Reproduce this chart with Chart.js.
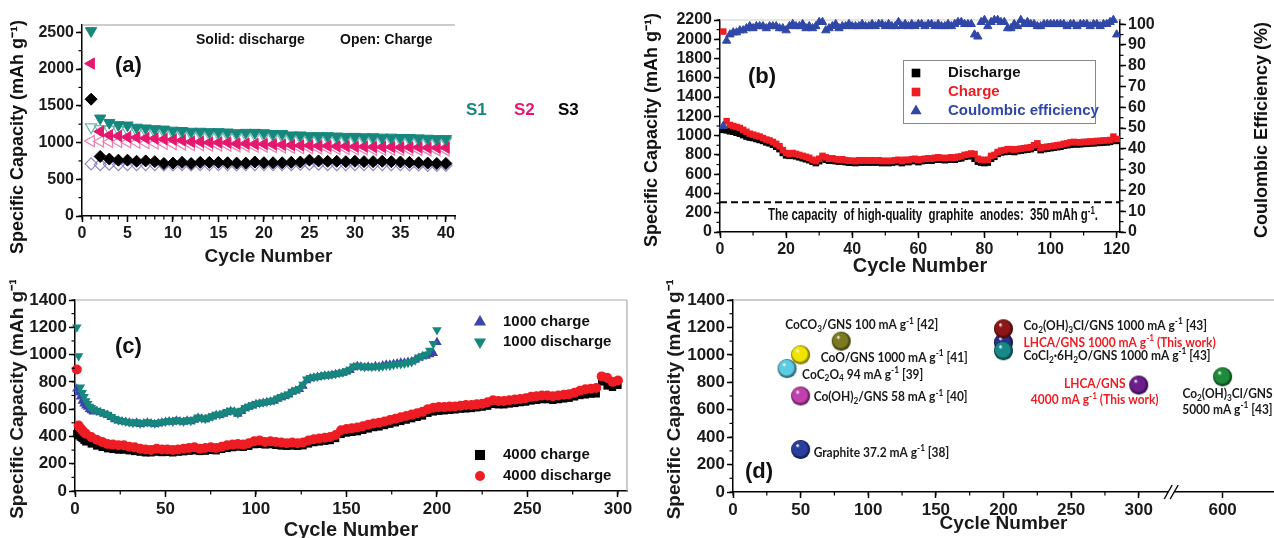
<!DOCTYPE html>
<html><head><meta charset="utf-8">
<script src="https://cdn.jsdelivr.net/npm/chart.js@4.4.1/dist/chart.umd.min.js"></script>
<style>
html,body{margin:0;padding:0;background:#fff;width:1274px;height:538px;overflow:hidden}
.p{position:absolute}
</style></head><body>
<div class="p" style="left:0;top:0"><canvas id="ca" width="640" height="278"></canvas></div>
<div class="p" style="left:640px;top:0"><canvas id="cb" width="634" height="278"></canvas></div>
<div class="p" style="left:0;top:280px"><canvas id="cc" width="640" height="258"></canvas></div>
<div class="p" style="left:660px;top:280px"><canvas id="cd" width="614" height="258"></canvas></div>
<script>
// ---------------- DATA ----------------
// Panel (a): cycles 1..40
const cyclesA = [1,2,3,4,5,6,7,8,9,10,11,12,13,14,15,16,17,18,19,20,21,22,23,24,25,26,27,28,29,30,31,32,33,34,35,36,37,38,39,40];
const s1Discharge = [2520,1330,1270,1240,1235,1205,1195,1185,1180,1165,1160,1150,1150,1145,1145,1140,1130,1135,1135,1130,1120,1120,1100,1100,1090,1090,1090,1085,1080,1080,1075,1075,1070,1070,1065,1065,1060,1055,1050,1050];
const s1Charge = [1210,1185,1180,1175,1170,1160,1150,1145,1140,1130,1125,1115,1115,1110,1110,1105,1100,1100,1100,1095,1090,1085,1070,1070,1060,1060,1060,1055,1050,1050,1045,1045,1040,1040,1035,1035,1030,1025,1020,1020];
const s2Discharge = [2075,1150,1100,1090,1075,1070,1060,1055,1045,1040,1030,1010,1010,1000,1000,1000,985,985,980,980,975,970,965,960,960,955,955,950,950,945,945,940,940,940,935,935,935,930,930,930];
const s2Charge = [1020,1015,1010,1010,1005,1000,995,990,985,980,975,965,965,960,960,960,950,950,945,945,940,935,930,925,925,920,920,915,915,910,910,905,905,905,900,900,900,895,895,895];
const s3Discharge = [1590,810,775,760,760,745,750,740,715,720,730,715,730,730,730,725,720,720,735,725,725,725,730,735,760,750,745,745,740,745,740,740,745,740,735,730,725,720,715,715];
const s3Charge = [710,700,705,700,700,700,700,700,695,695,700,695,700,700,700,700,695,700,700,700,700,700,700,705,705,705,700,700,700,700,700,700,700,700,700,695,695,690,690,690];
const ticksAx = [0,5,10,15,20,25,30,35,40];
const ticksAy = [0,500,1000,1500,2000,2500];

// Panel (b): cycles 1..120
const cyclesB = Array.from({length:120},(_, i) => i + 1);
const bCharge = [2080,1150,1110,1100,1090,1080,1060,1040,1020,1010,
 1000,990,975,960,950,935,915,890,850,820,
 810,820,810,800,790,780,770,750,735,760,
 790,775,760,765,755,750,755,745,740,740,
 735,745,740,745,740,745,740,745,735,740,
 735,740,745,750,735,750,745,755,760,745,
 755,760,765,760,770,775,770,765,770,775,
 770,780,785,800,805,815,810,760,750,745,
 750,790,800,830,845,850,860,860,855,860,
 865,870,875,880,900,920,870,880,885,890,
 895,900,905,915,920,930,935,930,930,935,
 935,940,940,945,945,950,950,955,990,965];
const bDischarge = [1060,1055,1045,1040,1030,1020,1005,990,980,975,
 965,955,945,930,920,905,885,860,820,795,
 790,795,785,775,765,755,745,730,715,735,
 765,750,740,740,735,730,735,725,720,720,
 715,725,720,725,720,725,720,725,715,720,
 715,720,725,730,715,730,725,735,740,725,
 735,740,745,740,750,755,750,745,750,755,
 750,760,765,780,785,795,760,730,720,715,
 720,760,780,810,825,830,835,835,830,840,
 845,850,855,860,875,890,850,860,865,870,
 875,880,885,895,900,905,910,910,910,915,
 915,920,920,925,925,930,930,935,950,945];
const bEfficiency = [51,92,95,96,96,97,97,98,99,98,
 99,99,99,98,99,99,99,98,98,97,
 99,100,99,99,100,98,99,98,99,101,
 101,97,98,99,100,98,99,99,100,99,
 99,99,100,99,99,100,99,100,100,99,
 100,99,99,101,99,100,99,100,99,100,
 100,99,100,100,99,100,99,99,100,99,
 100,101,101,100,100,100,95,94,101,102,
 99,101,102,102,101,101,98,98,100,99,
 102,100,101,100,100,99,99,100,100,100,
 100,100,100,100,99,100,100,99,100,100,
 100,99,100,100,99,100,100,101,102,95];
const graphiteLine = 310;
const ticksBx = [0,20,40,60,80,100,120];
const ticksBy = [0,200,400,600,800,1000,1200,1400,1600,1800,2000,2200];
const ticksBy1 = [0,10,20,30,40,50,60,70,80,90,100];

// Panel (c)
function range(a,b,s){const r=[];for(let v=a;v<=b;v+=s)r.push(v);return r;}
const cyc1000 = [1,2,3,4,5,6,7,8,9,10].concat(range(12,200,2));
const d1000 = [1200,990,760,720,690,660,640,620,610,600,
 590,580,570,560,545,530,520,515,510,505,
 500,505,495,500,505,500,495,500,505,510,
 515,510,520,515,510,520,515,525,540,535,
 530,540,550,560,560,570,580,590,585,570,
 590,610,620,630,640,645,650,655,660,665,
 680,690,700,710,730,740,750,780,820,830,
 835,840,845,850,850,855,860,865,870,880,
 890,915,920,915,910,915,910,915,910,915,
 920,920,925,930,930,935,940,945,960,980,
 990,1000,1030,1080,1180];
const c1000 = [750,720,690,660,640,625,615,600,590,580,
 585,575,565,555,540,525,515,510,505,500,
 495,500,490,495,500,495,490,495,500,505,
 510,505,515,510,505,515,510,520,535,530,
 525,535,545,555,555,565,575,585,580,565,
 585,605,615,625,635,640,645,650,655,660,
 675,685,695,705,725,735,745,770,810,825,
 830,835,840,845,845,850,855,860,865,875,
 885,905,915,910,905,910,905,915,910,920,
 925,925,930,935,940,940,945,950,960,975,
 985,990,1000,1010,1090];
const cyc4000 = [1,2,3,4,5].concat(range(6,300,3));
const d4000 = [890,480,460,445,430,
 420,395,375,360,345,340,335,335,325,320,
 310,305,300,310,305,305,300,305,310,315,
 320,310,315,320,315,325,335,340,345,340,
 350,365,370,360,365,360,355,350,355,350,
 355,370,380,385,390,395,410,445,455,460,
 465,475,485,495,500,510,520,530,540,550,
 560,570,580,600,610,615,615,620,620,625,
 630,630,635,640,650,665,660,660,665,670,
 675,680,690,695,700,700,695,700,705,710,
 720,735,745,750,755,840,830,800,810];
const ch4000 = [420,405,395,385,372,
 360,345,330,320,310,305,300,300,295,290,
 285,280,280,285,282,283,280,285,288,292,
 295,290,292,298,295,305,312,318,322,320,
 328,340,342,338,340,335,330,328,330,328,
 332,345,355,360,365,370,385,415,425,430,
 435,445,455,465,470,480,490,500,510,520,
 530,540,550,570,580,585,588,592,595,600,
 602,605,610,615,622,635,632,632,638,642,
 648,652,660,665,670,670,665,670,675,680,
 690,700,705,710,712,800,770,760,775];
const ticksCx = [0,50,100,150,200,250,300];
const ticksCy = [0,200,400,600,800,1000,1200,1400];

// Panel (d)
const dNames = [
 'Graphite 37.2 mA g^{-1} [38]',
 'Co(OH)_{2}/GNS 58 mA g^{-1} [40]',
 'CoC_{2}O_{4} 94 mA g^{-1} [39]',
 'CoO/GNS 1000 mA g^{-1} [41]',
 'CoCO_{3}/GNS 100 mA g^{-1} [42]',
 'LHCA/GNS 1000 mA g^{-1} (This work)',
 'Co_{2}(OH)_{3}Cl/GNS 1000 mA g^{-1} [43]',
 'CoCl_{2}·6H_{2}O/GNS 1000 mA g^{-1} [43]',
 'LHCA/GNS|4000 mA g^{-1} (This work)',
 'Co_{2}(OH)_{3}Cl/GNS|5000 mA g^{-1} [43]'];
const dCycles = [50,50,40,50,80,200,200,200,300,600];
const dCapacity = [310,700,900,1000,1100,1090,1190,1030,780,840];
const ticksDx = [0,50,100,150,200,250,300,600];
const ticksDy = [0,200,400,600,800,1000,1200,1400];

// ---------------- STYLE / HELPERS ----------------
const FAM = "'Liberation Sans', Arial, sans-serif";
const LFAM = "Lato, 'Open Sans', sans-serif";
const TEAL = '#16877c', PINK = '#e5186e', LAV = '#8d86c9', RED = '#ee1d23', BLUE = '#3047a8';
Chart.defaults.font.family = FAM;
Chart.defaults.animation = false;

function richParts(str){
  const out=[]; const re=/([_^])\{([^}]*)\}/g; let last=0, m;
  while((m=re.exec(str))){ if(m.index>last) out.push({t:str.slice(last,m.index),m:0}); out.push({t:m[2],m:m[1]==='_'?1:2}); last=re.lastIndex; }
  if(last<str.length) out.push({t:str.slice(last),m:0});
  return out;
}
function drawRich(ctx, str, x, y, o){
  const parts = richParts(str), sz = o.size, ssz = Math.round(sz*0.68);
  const fam = o.family || FAM, wt = o.weight || 'bold';
  const f = s => `${wt} ${s}px ${fam}`;
  let w = 0;
  for (const p of parts){ ctx.font = f(p.m?ssz:sz); p.w = ctx.measureText(p.t).width; w += p.w; }
  const sx = o.fitW ? o.fitW / w : (o.sx || 1);
  ctx.save(); ctx.translate(x, y); if (o.rot) ctx.rotate(o.rot); ctx.scale(sx, 1);
  let cx = o.align === 'center' ? -w/2 : o.align === 'right' ? -w : 0;
  ctx.fillStyle = o.color || '#111'; ctx.textBaseline = 'middle'; ctx.textAlign = 'left';
  for (const p of parts){ ctx.font = f(p.m?ssz:sz); const dy = p.m===1 ? sz*0.3 : p.m===2 ? -sz*0.33 : 0; ctx.fillText(p.t, cx, dy); cx += p.w; }
  ctx.restore();
}
function marker(ctx, style, x, y, r, color){
  ctx.save(); ctx.fillStyle = color; ctx.beginPath();
  if (style === 'rect'){ const s = r*0.72; ctx.rect(x-s, y-s, 2*s, 2*s); }
  else if (style === 'circle'){ ctx.arc(x, y, r, 0, Math.PI*2); }
  else if (style === 'up'){ ctx.moveTo(x, y-r); ctx.lineTo(x+r*0.87, y+r*0.5); ctx.lineTo(x-r*0.87, y+r*0.5); ctx.closePath(); }
  else if (style === 'down'){ ctx.moveTo(x, y+r); ctx.lineTo(x+r*0.87, y-r*0.5); ctx.lineTo(x-r*0.87, y-r*0.5); ctx.closePath(); }
  ctx.fill(); ctx.restore();
}
const minorTicks = {
  id: 'minorTicks',
  afterDraw(chart, args, opts){
    const ctx = chart.ctx;
    (opts.list || []).forEach(m => {
      const s = chart.scales[m.id]; const len = m.len || 3.5;
      ctx.save(); ctx.strokeStyle = '#000'; ctx.lineWidth = 1.2;
      const to = m.to !== undefined ? m.to : s.max;
      for (let v = (m.from !== undefined ? m.from : s.min); v <= to + 1e-9; v += m.step){
        const p = s.getPixelForValue(v); ctx.beginPath();
        if (s.isHorizontal()){ ctx.moveTo(p, s.top); ctx.lineTo(p, s.top + len); }
        else if (s.position === 'left'){ ctx.moveTo(s.right, p); ctx.lineTo(s.right - len, p); }
        else { ctx.moveTo(s.left, p); ctx.lineTo(s.left + len, p); }
        ctx.stroke();
      }
      ctx.restore();
    });
  }
};
const frame = {
  id: 'frame',
  beforeDatasetsDraw(chart, args, opts){
    const a = chart.chartArea, ctx = chart.ctx;
    ctx.save(); ctx.lineWidth = 1.2;
    if (opts.top){ ctx.strokeStyle = opts.top; ctx.beginPath(); ctx.moveTo(a.left, a.top); ctx.lineTo(a.right, a.top); ctx.stroke(); }
    if (opts.right){ ctx.strokeStyle = opts.right; ctx.beginPath(); ctx.moveTo(a.right, a.top); ctx.lineTo(a.right, a.bottom); ctx.stroke(); }
    ctx.restore();
  }
};
Chart.register(minorTicks, frame);

function axis(o){
  return {
    type: 'linear', position: o.pos, min: o.min, max: o.max,
    afterBuildTicks: s => { s.ticks = o.ticks.map(v => ({value: o.map ? o.map(v) : v})); },
    afterFit: s => {
      if (o.w !== undefined) s.width = o.w;
      if (o.h !== undefined) s.height = o.h;
      s.paddingLeft = 0; s.paddingRight = 0; s.paddingTop = 0; s.paddingBottom = 0;
    },
    ticks: { font: {family: FAM, size: o.fs, weight: 'bold'}, color: '#1a1a1a', padding: o.pad !== undefined ? o.pad : 2,
             maxRotation: 0, autoSkip: false, callback: o.cb || (v => String(v)) },
    grid: { drawOnChartArea: false, drawTicks: true, tickLength: 6, tickColor: '#000', tickWidth: 1.5 },
    border: { display: true, color: '#000', width: 1.5 },
    title: { display: !o.noTitle, text: o.title || '', color: '#1a1a1a', padding: o.tpad,
             font: {family: FAM, size: o.tfs, weight: 'bold', lineHeight: o.tlh || 1.2} }
  };
}
function pts(xs, ys){ return xs.map((x, i) => ({x: x, y: ys[i]})); }
function ds(label, xs, ys, o){
  return Object.assign({ label: label, data: pts(xs, ys), showLine: false, clip: false, pointBorderWidth: 1 }, o);
}
const base = { responsive: false, devicePixelRatio: 1, animation: false, events: [] };
const YT = 'Specific Capacity (mAh g⁻¹)';

// ---------------- (a) ----------------
new Chart(document.getElementById('ca'), {
  type: 'scatter',
  data: { datasets: [
    ds('S1 discharge', cyclesA, s1Discharge, {pointStyle:'triangle', rotation:180, pointRadius:6.5, backgroundColor:TEAL, borderColor:TEAL}),
    ds('S2 discharge', cyclesA, s2Discharge, {pointStyle:'triangle', rotation:270, pointRadius:6.5, backgroundColor:PINK, borderColor:PINK}),
    ds('S3 discharge', cyclesA, s3Discharge, {pointStyle:'rectRot', pointRadius:6, backgroundColor:'#000', borderColor:'#000'}),
    ds('S1 charge', cyclesA, s1Charge, {pointStyle:'triangle', rotation:180, pointRadius:6.5, backgroundColor:'rgba(0,0,0,0)', borderColor:'#6cb8b0', pointBorderWidth:1.2}),
    ds('S2 charge', cyclesA, s2Charge, {pointStyle:'triangle', rotation:270, pointRadius:6.5, backgroundColor:'rgba(0,0,0,0)', borderColor:'#ef7fae', pointBorderWidth:1.2}),
    ds('S3 charge', cyclesA, s3Charge, {pointStyle:'rectRot', pointRadius:6, backgroundColor:'rgba(0,0,0,0)', borderColor:LAV, pointBorderWidth:1.2})
  ]},
  options: Object.assign({}, base, {
    layout: { autoPadding: false, padding: {left:0, top:25, right:185, bottom:0} },
    plugins: { legend:{display:false}, tooltip:{enabled:false},
      minorTicks: { list: [{id:'x', step:1}, {id:'y', step:250}] },
      frame: { top: '#999' } },
    scales: {
      x: axis({pos:'bottom', min:0, max:41, ticks:ticksAx, fs:16, h:62, title:'Cycle Number', tfs:19, tpad:{top:0,bottom:10}}),
      y: axis({pos:'left', min:0, max:2600, ticks:ticksAy, fs:16, w:82, noTitle:true})
    }
  }),
  plugins: [{ id:'decoA', afterDraw(chart){
    const a = chart.chartArea, ctx = chart.ctx;
    drawRich(ctx, YT, 18, 137, {size:18, align:'center', rot:-Math.PI/2});
    drawRich(ctx, '(a)', a.left+33, a.top+41, {size:22});
    drawRich(ctx, 'Solid: discharge', a.left+114, a.top+15, {size:14});
    drawRich(ctx, 'Open: Charge', a.left+258, a.top+15, {size:14});
    drawRich(ctx, 'S1', a.right+11, a.top+85, {size:17, color:TEAL});
    drawRich(ctx, 'S2', a.right+59, a.top+85, {size:17, color:PINK});
    drawRich(ctx, 'S3', a.right+103, a.top+85, {size:17, color:'#000'});
  }}]
});

// ---------------- (b) ----------------
new Chart(document.getElementById('cb'), {
  type: 'scatter',
  data: { datasets: [
    ds('Coulombic efficiency', cyclesB, bEfficiency, {yAxisID:'y1', pointStyle:'triangle', pointRadius:4.8, backgroundColor:BLUE, borderColor:BLUE}),
    ds('Charge', cyclesB, bCharge, {pointStyle:'rect', pointRadius:4.6, backgroundColor:RED, borderColor:RED, pointBorderWidth:0}),
    ds('Discharge', cyclesB, bDischarge, {pointStyle:'rect', pointRadius:4.6, backgroundColor:'#000', borderColor:'#000', pointBorderWidth:0}),
    { type:'line', label:'graphite', data:[{x:0,y:graphiteLine},{x:121,y:graphiteLine}], borderColor:'#000', borderWidth:2, borderDash:[7,4], pointRadius:0 }
  ]},
  options: Object.assign({}, base, {
    layout: { autoPadding: false, padding: {left:0, top:20, right:0, bottom:0} },
    plugins: { legend:{display:false}, tooltip:{enabled:false},
      minorTicks: { list: [{id:'x', step:10}, {id:'y', step:100}, {id:'y1', step:5}] },
      frame: { top: '#ccc' } },
    scales: {
      x: axis({pos:'bottom', min:0, max:121, ticks:ticksBx, fs:16, h:46, title:'Cycle Number', tfs:20, tlh:1.1, tpad:{top:0,bottom:1}}),
      y: axis({pos:'left', min:0, max:2200, ticks:ticksBy, fs:16, w:80, noTitle:true}),
      y1: axis({pos:'right', min:0, max:102, ticks:ticksBy1, fs:16, w:154, noTitle:true})
    }
  }),
  plugins: [{ id:'decoB', afterDraw(chart){
    const a = chart.chartArea, ctx = chart.ctx;
    drawRich(ctx, YT, 12, 130, {size:18, align:'center', rot:-Math.PI/2});
    drawRich(ctx, 'Coulombic Efficiency (%)', chart.width - 12, 130, {size:18, align:'center', rot:-Math.PI/2});
    drawRich(ctx, '(b)', a.left+28, a.top+57, {size:22});
    ctx.save(); ctx.strokeStyle = '#888'; ctx.lineWidth = 1; ctx.strokeRect(a.left+183.5, a.top+40.5, 192, 63); ctx.restore();
    marker(ctx, 'rect', a.left+196, a.top+53, 6, '#000');
    marker(ctx, 'rect', a.left+196, a.top+72, 6, RED);
    marker(ctx, 'up', a.left+196, a.top+91, 6.5, BLUE);
    drawRich(ctx, 'Discharge', a.left+228, a.top+53, {size:15, color:'#111'});
    drawRich(ctx, 'Charge', a.left+228, a.top+72, {size:15, color:RED});
    drawRich(ctx, 'Coulombic efficiency', a.left+228, a.top+91, {size:15, color:BLUE});
    drawRich(ctx, 'The capacity  of high-quality  graphite  anodes:  350 mAh g^{-1}.', a.left+213, a.top+196, {size:16, align:'center', fitW:330});
  }}]
});

// ---------------- (c) ----------------
new Chart(document.getElementById('cc'), {
  type: 'scatter',
  data: { datasets: [
    ds('1000 discharge', cyc1000, d1000, {pointStyle:'triangle', rotation:180, pointRadius:5.5, backgroundColor:TEAL, borderColor:TEAL, pointBorderWidth:0}),
    ds('1000 charge', cyc1000, c1000, {pointStyle:'triangle', pointRadius:5.5, backgroundColor:'#3b44ad', borderColor:'#3b44ad', pointBorderWidth:0}),
    ds('4000 discharge', cyc4000, d4000, {pointStyle:'circle', pointRadius:5, backgroundColor:RED, borderColor:RED, pointBorderWidth:0}),
    ds('4000 charge', cyc4000, ch4000, {pointStyle:'rect', pointRadius:5.2, backgroundColor:'#000', borderColor:'#000', pointBorderWidth:0})
  ]},
  options: Object.assign({}, base, {
    layout: { autoPadding: false, padding: {left:0, top:20, right:13, bottom:0} },
    plugins: { legend:{display:false}, tooltip:{enabled:false},
      minorTicks: { list: [{id:'x', step:25}, {id:'y', step:100}] },
      frame: { top: '#aaa', right: '#aaa' } },
    scales: {
      x: axis({pos:'bottom', min:0, max:305, ticks:ticksCx, fs:17, h:47, title:'Cycle Number', tfs:20, tlh:0.8, tpad:{top:0,bottom:0}}),
      y: axis({pos:'left', min:0, max:1400, ticks:ticksCy, fs:17, w:75, title:YT, tfs:19, tpad:{top:6,bottom:0}})
    }
  }),
  plugins: [{ id:'decoC', afterDraw(chart){
    const a = chart.chartArea, ctx = chart.ctx;
    drawRich(ctx, '(c)', a.left+40, a.top+47, {size:22});
    marker(ctx, 'up', a.left+405, a.top+22, 7, '#3b44ad');
    marker(ctx, 'down', a.left+405, a.top+42, 7, TEAL);
    marker(ctx, 'rect', a.left+405, a.top+155, 7, '#000');
    marker(ctx, 'circle', a.left+405, a.top+176, 5, RED);
    drawRich(ctx, '1000 charge', a.left+428, a.top+22, {size:15});
    drawRich(ctx, '1000 discharge', a.left+428, a.top+42, {size:15});
    drawRich(ctx, '4000 charge', a.left+428, a.top+155, {size:15});
    drawRich(ctx, '4000 discharge', a.left+428, a.top+176, {size:15});
  }}]
});

// ---------------- (d) ----------------
const sphereColors = ['#2a3f9d','#c23fae','#5ccbe3','#f0e400','#7b7a1e','#2b2f8f','#8e1616','#17898a','#6d1e8c','#1c8c3a'];
function sphere(color, r){
  const s = Math.ceil(2*r + 2), c = document.createElement('canvas'); c.width = c.height = s;
  const g = c.getContext('2d'), cx = s/2, cy = s/2;
  const gr = g.createRadialGradient(cx - r*0.35, cy - r*0.45, r*0.05, cx, cy, r);
  gr.addColorStop(0, '#ffffff'); gr.addColorStop(0.18, color); gr.addColorStop(0.75, color); gr.addColorStop(1, 'rgba(0,0,0,0.55)');
  g.fillStyle = color; g.beginPath(); g.arc(cx, cy, r, 0, Math.PI*2); g.fill();
  g.fillStyle = gr; g.beginPath(); g.arc(cx, cy, r, 0, Math.PI*2); g.fill();
  return c;
}
const breakMap = v => v > 300 ? 362 + (v - 600) : v;
const dOrder = [0,1,2,3,4,5,6,7,8,9];
// label offsets in px relative to each sphere: [dx, dy, align, color]
const dLabelStyle = [
 [13, 3, 'left', '#1a1a1a'], [13, 1, 'left', '#1a1a1a'], [15, 6, 'left', '#1a1a1a'], [20, 3, 'left', '#1a1a1a'],
 [-56, -16, 'left', '#1a1a1a'], [20, 0, 'left', RED], [20, -3, 'left', '#1a1a1a'], [20, 5, 'left', '#1a1a1a'],
 [-44, -1, 'center', RED], [50, 17, 'right', '#1a1a1a']];
new Chart(document.getElementById('cd'), {
  type: 'scatter',
  data: { datasets: [{
    label: 'materials', data: dOrder.map(i => ({x: breakMap(dCycles[i]), y: dCapacity[i]})),
    pointStyle: dOrder.map(i => sphere(sphereColors[i], 9.5)), pointRadius: 10, showLine: false, clip: false
  }]},
  options: Object.assign({}, base, {
    layout: { autoPadding: false, padding: {left:0, top:20, right:0, bottom:0} },
    plugins: { legend:{display:false}, tooltip:{enabled:false},
      minorTicks: { list: [{id:'x', step:25, from:0, to:300}, {id:'y', step:100}] },
      frame: { top: '#999' } },
    scales: {
      x: axis({pos:'bottom', min:0, max:400, ticks:ticksDx, map:breakMap, cb: v => (v > 300 ? '600' : String(v)), fs:17, h:46, title:'Cycle Number', tfs:19, tpad:{top:0,bottom:3}}),
      y: axis({pos:'left', min:0, max:1400, ticks:ticksDy, fs:17, w:73, title:YT, tfs:19, tpad:{top:3,bottom:0}})
    }
  }),
  plugins: [{ id:'decoD', afterDraw(chart){
    const a = chart.chartArea, ctx = chart.ctx, sx = chart.scales.x, sy = chart.scales.y;
    drawRich(ctx, '(d)', a.left+12, a.top+172, {size:22});
    dNames.forEach((name, i) => {
      const px = sx.getPixelForValue(breakMap(dCycles[i])), py = sy.getPixelForValue(dCapacity[i]);
      const st = dLabelStyle[i]; const lines = name.split('|');
      lines.forEach((ln, k) => drawRich(ctx, ln, px + st[0], py + st[1] + k*16, {size:13, family:LFAM, align:st[2], color:st[3], sx:0.92}));
    });
    const bx = sx.getPixelForValue(324), by = a.bottom;
    ctx.save(); ctx.fillStyle = '#fff'; ctx.fillRect(bx-3, by-2, 6, 4);
    ctx.strokeStyle = '#000'; ctx.lineWidth = 1.4;
    [-3, 3].forEach(o => { ctx.beginPath(); ctx.moveTo(bx+o-4, by+7); ctx.lineTo(bx+o+4, by-7); ctx.stroke(); });
    ctx.restore();
  }}]
});
</script>
</body></html>
